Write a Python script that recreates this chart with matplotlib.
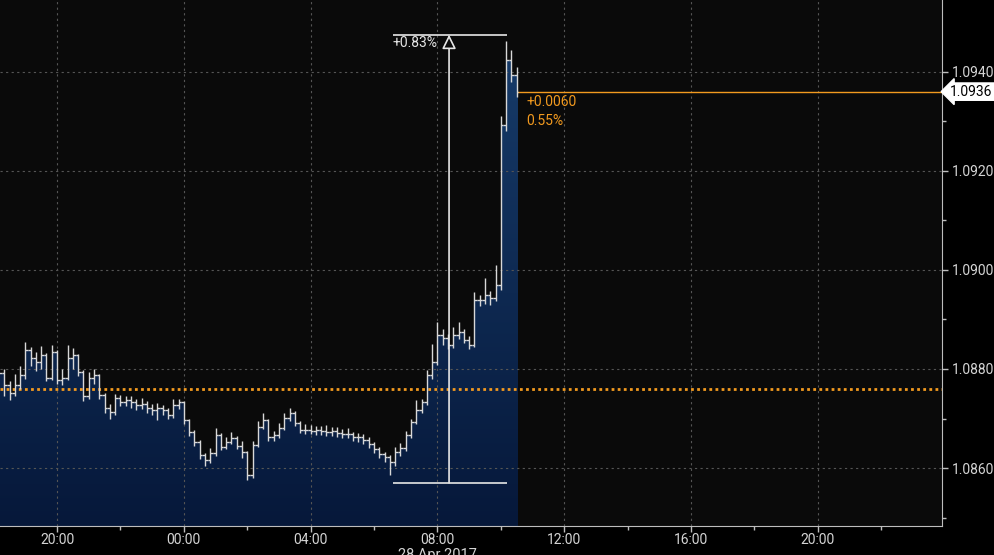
import numpy as np
import pandas as pd
import matplotlib
matplotlib.use("Agg")
import matplotlib.pyplot as plt
import matplotlib.dates as mdates
from matplotlib.colors import LinearSegmentedColormap
from datetime import datetime

# EURUSD 10-minute bars, 27 Apr 2017 18:10 -> 28 Apr 2017 10:30
close = [1.08792, 1.08768, 1.08752, 1.08768, 1.08788, 1.08838, 1.08822, 1.08814, 1.08828, 1.08782,
         1.08834, 1.08778, 1.08782, 1.08822, 1.08828, 1.08794, 1.08746, 1.08782, 1.08788, 1.08748,
         1.08721, 1.08713, 1.08741, 1.08733, 1.08737, 1.08733, 1.08727, 1.08729, 1.08721, 1.08717,
         1.08721, 1.08717, 1.08707, 1.08727, 1.08733, 1.08697, 1.08673, 1.08653, 1.08626, 1.08616,
         1.08630, 1.08667, 1.08643, 1.08653, 1.08661, 1.08645, 1.08632, 1.08586, 1.08647, 1.08683,
         1.08697, 1.08663, 1.08667, 1.08681, 1.08701, 1.08711, 1.08691, 1.08677, 1.08677, 1.08675,
         1.08677, 1.08675, 1.08673, 1.08675, 1.08671, 1.08669, 1.08669, 1.08663, 1.08663, 1.08657,
         1.08649, 1.08638, 1.08628, 1.08622, 1.08612, 1.08632, 1.08640, 1.08667, 1.08693, 1.08717,
         1.08733, 1.08788, 1.08814, 1.08869, 1.08863, 1.08849, 1.08869, 1.08875, 1.08859, 1.08849,
         1.08939, 1.08939, 1.08950, 1.08943, 1.08970, 1.09293, 1.09424, 1.09394, 1.09360]
high = [1.08830, 1.08800, 1.08775, 1.08790, 1.08805, 1.08855, 1.08845, 1.08835, 1.08846, 1.08832,
        1.08848, 1.08838, 1.08800, 1.08848, 1.08842, 1.08830, 1.08798, 1.08794, 1.08800, 1.08790,
        1.08752, 1.08730, 1.08750, 1.08748, 1.08745, 1.08745, 1.08740, 1.08742, 1.08735, 1.08730,
        1.08732, 1.08728, 1.08722, 1.08740, 1.08740, 1.08735, 1.08700, 1.08677, 1.08657, 1.08630,
        1.08640, 1.08680, 1.08670, 1.08662, 1.08672, 1.08665, 1.08655, 1.08635, 1.08655, 1.08695,
        1.08712, 1.08700, 1.08675, 1.08690, 1.08712, 1.08722, 1.08716, 1.08695, 1.08688, 1.08686,
        1.08685, 1.08684, 1.08686, 1.08683, 1.08682, 1.08678, 1.08680, 1.08672, 1.08670, 1.08668,
        1.08662, 1.08652, 1.08642, 1.08633, 1.08627, 1.08642, 1.08650, 1.08675, 1.08700, 1.08737,
        1.08740, 1.08798, 1.08850, 1.08895, 1.08880, 1.08870, 1.08885, 1.08895, 1.08880, 1.08866,
        1.08955, 1.08950, 1.08983, 1.08958, 1.09010, 1.09310, 1.09462, 1.09445, 1.09410]
low = [1.08770, 1.08745, 1.08738, 1.08745, 1.08760, 1.08780, 1.08805, 1.08795, 1.08800, 1.08775,
       1.08778, 1.08770, 1.08768, 1.08778, 1.08800, 1.08785, 1.08735, 1.08740, 1.08770, 1.08740,
       1.08712, 1.08700, 1.08708, 1.08725, 1.08725, 1.08722, 1.08718, 1.08720, 1.08712, 1.08708,
       1.08697, 1.08708, 1.08700, 1.08702, 1.08720, 1.08688, 1.08665, 1.08645, 1.08618, 1.08605,
       1.08610, 1.08625, 1.08636, 1.08638, 1.08648, 1.08638, 1.08620, 1.08575, 1.08580, 1.08642,
       1.08678, 1.08655, 1.08655, 1.08660, 1.08676, 1.08695, 1.08685, 1.08670, 1.08668, 1.08668,
       1.08667, 1.08666, 1.08665, 1.08665, 1.08663, 1.08660, 1.08660, 1.08655, 1.08652, 1.08648,
       1.08640, 1.08630, 1.08620, 1.08612, 1.08585, 1.08605, 1.08625, 1.08635, 1.08660, 1.08688,
       1.08712, 1.08728, 1.08780, 1.08808, 1.08848, 1.08840, 1.08842, 1.08860, 1.08852, 1.08840,
       1.08845, 1.08928, 1.08932, 1.08930, 1.08938, 1.08960, 1.09280, 1.09380, 1.09350]
first_open = 1.08800

prev_close = 1.0876
last_price = 1.0936
change_text = ["+0.0060", "0.55%"]

# user-drawn range measurement
meas_low, meas_high = 1.08570, 1.09475
meas_start = datetime(2017, 4, 28, 6, 35)
meas_end = datetime(2017, 4, 28, 10, 12)
meas_arrow = datetime(2017, 4, 28, 8, 22)
meas_label = "+0.83%"

yticks = [1.0860, 1.0880, 1.0900, 1.0920, 1.0940]
yminor = [1.0850, 1.0870, 1.0890, 1.0910, 1.0930]
xtick_times = pd.date_range("2017-04-27 20:00", "2017-04-28 20:00", freq="4h")
xminor_times = pd.date_range("2017-04-27 22:00", "2017-04-28 22:00", freq="4h")

times = pd.date_range("2017-04-27 18:10", periods=len(close), freq="10min")
xs = mdates.date2num(times.to_pydatetime())
c = np.array(close)
o = np.concatenate([[first_open], c[:-1]])
half = 5.0 / 1440  # half a bar

BG = "#0a0a0a"
TXT = "#d4d4d4"
ORANGE = "#f29a1f"
plt.rcParams["font.family"] = ["Roboto", "DejaVu Sans"]

fig = plt.figure(figsize=(9.95, 5.55), dpi=100, facecolor="black")
ax = fig.add_axes((0.0, 0.0523, 0.9467, 0.9477))
ax.set_facecolor(BG)

x0 = mdates.date2num(datetime(2017, 4, 27, 18, 12))
x1 = mdates.date2num(datetime(2017, 4, 28, 23, 55))
ylo, yhi = 1.08483, 1.09545
ax.set_xlim(x0, x1)
ax.set_ylim(ylo, yhi)

# gradient area under the closes (stepped)
xs_fill = np.append(xs, xs[-1] + half * 0.4)
c_fill = np.append(c, c[-1])
poly = ax.fill_between(xs_fill, c_fill, ylo, step="post", color="none", lw=0)
cmap = LinearSegmentedColormap.from_list("bb", ["#06183a", "#163a68"])
grad = np.linspace(0, 1, 256).reshape(-1, 1)
im = ax.imshow(grad, extent=[xs[0], xs_fill[-1], ylo, c.max()], origin="lower",
               aspect="auto", cmap=cmap, zorder=1)
im.set_clip_path(poly.get_paths()[0], transform=ax.transData)

# grid
for yt in yticks:
    ax.axhline(yt, color="#555555", lw=0.8, ls=(0, (2, 3)), zorder=2)
for xt in xtick_times:
    ax.axvline(mdates.date2num(xt), color="#555555", lw=0.8, ls=(0, (2, 3)), zorder=2)

# OHLC bars
bar_col = "#d8d8d8"
ax.vlines(xs, low, high, color=bar_col, lw=1.0, zorder=4)
ax.hlines(o, xs - half, xs, color=bar_col, lw=1.0, zorder=4)
ax.hlines(c[:-1], xs[:-1], xs[:-1] + half, color=bar_col, lw=1.0, zorder=4)
ax.hlines(c[-1], xs[-1], xs[-1] + half * 0.4, color=bar_col, lw=1.0, zorder=4)

# previous close & last price
ax.axhline(prev_close, color=ORANGE, lw=2, ls=(0, (1, 1.2)), zorder=3)
ax.hlines(last_price, xs[-1], x1, color=ORANGE, lw=1, zorder=3)
tx = xs[-1] + 0.0125
ax.text(tx, last_price - 0.00020, change_text[0], color=ORANGE,
        fontsize=10, va="center", ha="left", zorder=6)
ax.text(tx, last_price - 0.00060, change_text[1], color=ORANGE,
        fontsize=10, va="center", ha="left", zorder=6)

# range measurement
ms, me, ma = [mdates.date2num(d) for d in (meas_start, meas_end, meas_arrow)]
ax.hlines([meas_high, meas_low], ms, me, color="#e6e6e6", lw=1.2, zorder=5)
ax.annotate("", xy=(ma, meas_high), xytext=(ma, meas_low),
            arrowprops=dict(arrowstyle="-|>,head_length=0.85,head_width=0.42",
                            ec="#e6e6e6", fc=BG, lw=1.2, shrinkA=0, shrinkB=0),
            zorder=5)
ax.text(ma - 0.0155, meas_high - 0.00016, meas_label, color="#e6e6e6", fontsize=10,
        ha="right", va="center", zorder=6)

# axes styling
for s in ["top", "left"]:
    ax.spines[s].set_visible(False)
ax.spines["right"].set_color("#bdbdbd")
ax.spines["bottom"].set_color("#bdbdbd")
ax.yaxis.tick_right()
ax.set_yticks(yticks)
ax.set_yticklabels([f"{v:.4f}" for v in yticks])
ax.set_yticks(yminor, minor=True)
ax.set_xticks(mdates.date2num(xtick_times.to_pydatetime()))
ax.set_xticklabels([t.strftime("%H:%M") for t in xtick_times])
ax.set_xticks(mdates.date2num(xminor_times.to_pydatetime()), minor=True)
ax.tick_params(axis="both", which="major", colors="#bdbdbd", labelcolor=TXT,
               labelsize=10, length=4, width=1)
ax.tick_params(axis="both", which="minor", colors="#bdbdbd", length=3, width=1)
ax.tick_params(axis="y", pad=3)
ax.tick_params(axis="x", pad=1)

# last price tag
ax.annotate(f"{last_price:.4f}", xy=(1.0, last_price), xycoords=("axes fraction", "data"),
            xytext=(6, 0), textcoords="offset points", color="black", fontsize=10,
            va="center", ha="left", annotation_clip=False,
            bbox=dict(boxstyle="larrow,pad=0.12", fc="white", ec="white"))

fig.text(437 / 995, 1 - 548 / 555, "28 Apr 2017", color=TXT, fontsize=10.5,
         ha="center", va="top")

fig.savefig("out.png", dpi=100, facecolor="black")
